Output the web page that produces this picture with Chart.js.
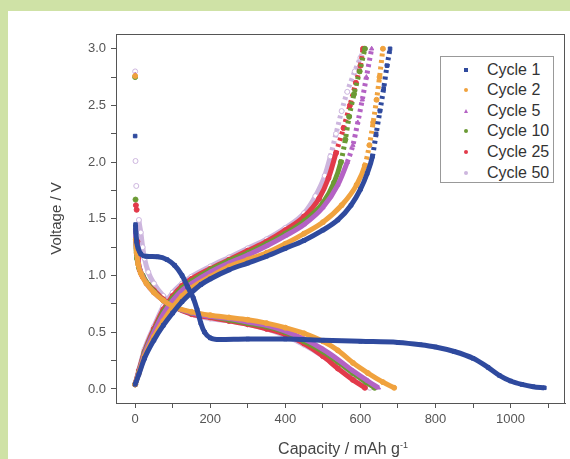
<!DOCTYPE html>
<html>
<head>
<meta charset="utf-8">
<script src="https://cdn.jsdelivr.net/npm/chart.js@4.4.1/dist/chart.umd.min.js"></script>
<style>
    body { margin: 0; background: #cfe2a6; width: 570px; height: 459px; overflow: hidden; position: relative; font-family: "Liberation Sans", Arial, sans-serif; }
    #wrap { position: absolute; left: 8px; top: 11px; width: 562px; height: 448px; background: #fff; }
    #legend { position: absolute; left: 432px; top: 45px; width: 112px; height: 125px; border: 1px solid #999; background: #fff; }
    .row { position: absolute; left: 0; height: 20px; line-height: 20px; font-size: 16px; color: #333; }
    .row span.txt { position: absolute; left: 46px; white-space: nowrap; }
    .mk { position: absolute; left: 23px; top: 8px; width: 4px; height: 4px; }
    #xtitle { position: absolute; left: 235px; width: 200px; top: 424px; line-height: 20px; text-align: center; font-size: 16px; color: #444; white-space: nowrap; }
    #xtitle sup { font-size: 9px; }
</style>
</head>
<body>
<div id="wrap">
    <canvas id="chart" width="562" height="448"></canvas>
    <div id="legend"></div>
    <div id="xtitle">Capacity / mAh g<sup>-1</sup></div>
</div>
<script>
// Capacity (mAh/g) vs voltage (V) pairs
const cycle1Discharge = [[0,2.23],[1,1.45],[2,1.38],[4,1.3],[8,1.24],[15,1.19],[30,1.17],[60,1.165],[85,1.14],[105,1.09],[125,1.0],[140,0.9],[155,0.8],[165,0.7],[175,0.58],[185,0.5],[200,0.45],[225,0.435],[300,0.44],[400,0.44],[500,0.43],[600,0.42],[700,0.41],[760,0.39],[800,0.37],[850,0.33],[900,0.27],[940,0.19],[970,0.12],[1000,0.07],[1030,0.04],[1060,0.02],[1090,0.01]];
const cycle2Discharge = [[0,2.76],[2,1.32],[4,1.2],[8,1.1],[15,1.02],[30,0.93],[50,0.85],[75,0.78],[100,0.73],[150,0.68],[200,0.65],[250,0.63],[300,0.61],[350,0.58],[400,0.54],[450,0.49],[500,0.42],[540,0.34],[580,0.23],[620,0.14],[660,0.06],[690,0.01]];
const cycle5Discharge = [[0,2.77],[1,1.42],[3,1.25],[8,1.12],[15,1.03],[30,0.93],[50,0.85],[75,0.78],[100,0.73],[150,0.67],[200,0.64],[250,0.62],[300,0.59],[350,0.56],[400,0.51],[450,0.44],[500,0.35],[540,0.26],[580,0.16],[620,0.07],[648,0.01]];
const cycle10Discharge = [[0,2.75],[1,1.67],[2,1.32],[5,1.15],[10,1.07],[20,1.0],[35,0.92],[50,0.86],[75,0.78],[100,0.73],[150,0.67],[200,0.64],[250,0.61],[300,0.58],[350,0.55],[400,0.5],[450,0.42],[500,0.33],[540,0.24],[580,0.14],[615,0.06],[638,0.01]];
const cycle25Discharge = [[2,1.62],[4,1.58],[6,1.3],[8,1.15],[12,1.05],[20,0.99],[35,0.92],[50,0.87],[75,0.79],[100,0.73],[150,0.66],[200,0.63],[250,0.6],[300,0.57],[350,0.53],[400,0.48],[450,0.4],[500,0.29],[540,0.18],[580,0.08],[612,0.01]];
const cycle50Discharge = [[0,2.8],[1,2.01],[3,1.79],[10,1.49],[15,1.38],[20,1.25],[25,1.15],[35,1.03],[50,0.93],[75,0.82],[100,0.74],[150,0.66],[200,0.62],[250,0.6],[300,0.57],[350,0.53],[400,0.47],[450,0.39],[500,0.29],[545,0.18],[590,0.07],[625,0.01]];

const cycle1Charge = [[0,0.04],[10,0.13],[25,0.27],[50,0.43],[75,0.56],[100,0.67],[125,0.77],[150,0.85],[175,0.92],[200,0.97],[250,1.05],[300,1.11],[350,1.17],[400,1.24],[450,1.31],[500,1.4],[540,1.49],[575,1.62],[600,1.76],[618,1.9],[632,2.05],[642,2.25],[652,2.45],[662,2.65],[671,2.85],[679,3.0]];
const cycle2Charge = [[0,0.04],[10,0.14],[25,0.29],[50,0.46],[75,0.6],[100,0.72],[125,0.82],[150,0.89],[200,0.99],[250,1.08],[300,1.14],[350,1.2],[400,1.28],[450,1.37],[500,1.47],[550,1.62],[590,1.8],[612,1.97],[624,2.15],[634,2.35],[643,2.55],[651,2.75],[660,3.0]];
const cycle5Charge = [[0,0.04],[10,0.15],[25,0.31],[50,0.5],[75,0.66],[100,0.78],[125,0.87],[150,0.93],[200,1.03],[250,1.11],[300,1.18],[350,1.26],[400,1.35],[450,1.45],[500,1.6],[540,1.8],[565,2.0],[580,2.15],[593,2.35],[605,2.55],[616,2.75],[630,3.0]];
const cycle10Charge = [[0,0.04],[10,0.15],[25,0.32],[50,0.51],[75,0.68],[100,0.8],[125,0.89],[150,0.95],[200,1.05],[250,1.13],[300,1.2],[350,1.28],[400,1.37],[450,1.48],[500,1.64],[530,1.82],[548,2.0],[560,2.2],[570,2.4],[583,2.6],[598,2.8],[612,3.0]];
const cycle25Charge = [[0,0.04],[10,0.16],[25,0.33],[50,0.53],[75,0.7],[100,0.82],[125,0.91],[150,0.97],[200,1.06],[250,1.14],[300,1.22],[350,1.3],[400,1.4],[450,1.52],[490,1.68],[515,1.86],[535,2.08],[555,2.3],[572,2.5],[588,2.7],[600,2.85],[607,3.0]];
const cycle50Charge = [[0,0.04],[10,0.17],[25,0.35],[50,0.55],[75,0.73],[100,0.85],[125,0.93],[150,0.99],[200,1.08],[250,1.16],[300,1.24],[350,1.32],[400,1.42],[450,1.55],[480,1.7],[505,1.88],[520,2.05],[535,2.25],[550,2.45],[565,2.62],[585,2.8],[600,2.92],[612,3.0]];

const cycleLabels = ['Cycle 1', 'Cycle 2', 'Cycle 5', 'Cycle 10', 'Cycle 25', 'Cycle 50'];
const cycleColors = ['#2f4a9e', '#f0a23e', '#b462c4', '#6b9a34', '#e23a4a', '#cdb6de'];
const cycleMarkers = ['rect', 'circle', 'triangle', 'circle', 'circle', 'circle'];
const dischargeSets = [cycle1Discharge, cycle2Discharge, cycle5Discharge, cycle10Discharge, cycle25Discharge, cycle50Discharge];
const chargeSets = [cycle1Charge, cycle2Charge, cycle5Charge, cycle10Charge, cycle25Charge, cycle50Charge];

// axis ticks (labels only on the major ones)
const xTickValues = [0, 100, 200, 300, 400, 500, 600, 700, 800, 900, 1000, 1100];
const xTickLabels = ['0', '', '200', '', '400', '', '600', '', '800', '', '1000', ''];
const yTickValues = [0, 0.25, 0.5, 0.75, 1.0, 1.25, 1.5, 1.75, 2.0, 2.25, 2.5, 2.75, 3.0];
const yTickLabels = ['0.0', '', '0.5', '', '1.0', '', '1.5', '', '2.0', '', '2.5', '', '3.0'];
const xRange = [-51, 1145];
const yRange = [-0.124, 3.13];

function toPoints(arr) {
    return arr.map(p => ({ x: p[0], y: p[1] }));
}

// build datasets: discharge + charge for each cycle
const datasets = [];
cycleLabels.forEach((label, i) => {
    const color = cycleColors[i];
    const common = {
        label: label,
        showLine: true,
        borderColor: color,
        backgroundColor: i === 5 ? '#ffffff' : color,
        pointBorderColor: color,
        pointStyle: cycleMarkers[i],
        pointRadius: 2.5,
        pointBorderWidth: 1,
        borderWidth: 5,
        cubicInterpolationMode: 'monotone'
    };
    datasets.push(Object.assign({}, common, {
        data: toPoints(dischargeSets[i]),
        segment: {
            // the first few points right after switching are isolated dots
            borderColor: ctx => ctx.p0.parsed.y > 1.5 ? 'rgba(0,0,0,0)' : undefined
        }
    }));
    datasets.push(Object.assign({}, common, {
        data: toPoints(chargeSets[i]),
        segment: {
            // near the cut-off the points spread out and look dotted
            borderDash: ctx => ctx.p0.parsed.y >= 1.95 ? [3, 3.5] : undefined
        }
    }));
});

// frame around the plot area
const framePlugin = {
    id: 'frame',
    afterDraw(chart) {
        const a = chart.chartArea;
        const ctx = chart.ctx;
        ctx.save();
        ctx.strokeStyle = '#555';
        ctx.lineWidth = 1;
        ctx.strokeRect(a.left + 0.5, a.top + 0.5, a.right - a.left - 1, a.bottom - a.top);
        ctx.restore();
    }
};

const tickFont = { family: '"Liberation Sans", Arial, sans-serif', size: 13 };

new Chart(document.getElementById('chart'), {
    type: 'scatter',
    data: { datasets: datasets },
    options: {
        responsive: false,
        animation: false,
        layout: { padding: { top: 23, right: 2, left: 0, bottom: 0 } },
        plugins: { legend: { display: false }, tooltip: { enabled: false } },
        scales: {
            x: {
                type: 'linear',
                min: xRange[0],
                max: xRange[1],
                afterFit: s => { s.height = 56; },
                afterBuildTicks: s => { s.ticks = xTickValues.map(v => ({ value: v })); },
                border: { color: '#555', width: 1 },
                grid: { drawOnChartArea: false, drawTicks: true, tickLength: 5, tickColor: '#555' },
                ticks: {
                    autoSkip: false,
                    maxRotation: 0,
                    padding: 4,
                    color: '#555',
                    font: tickFont,
                    callback: (v, i) => xTickLabels[i]
                }
            },
            y: {
                type: 'linear',
                min: yRange[0],
                max: yRange[1],
                afterFit: s => { s.width = 108; },
                afterBuildTicks: s => { s.ticks = yTickValues.map(v => ({ value: v })); },
                border: { color: '#555', width: 1 },
                grid: { drawOnChartArea: false, drawTicks: true, tickLength: 5, tickColor: '#555' },
                ticks: {
                    autoSkip: false,
                    padding: 5,
                    color: '#555',
                    font: tickFont,
                    callback: (v, i) => yTickLabels[i]
                },
                title: {
                    display: true,
                    text: 'Voltage / V',
                    color: '#444',
                    font: { family: '"Liberation Sans", Arial, sans-serif', size: 15 },
                    padding: { top: 40, bottom: 0 }
                }
            }
        }
    },
    plugins: [framePlugin]
});

// legend drawn as html text inside the plot
const legend = document.getElementById('legend');
cycleLabels.forEach((label, i) => {
    const row = document.createElement('div');
    row.className = 'row';
    row.style.top = (2.5 + i * 20.6) + 'px';
    const mk = document.createElement('span');
    mk.className = 'mk';
    if (cycleMarkers[i] === 'triangle') {
        mk.style.width = '0';
        mk.style.height = '0';
        mk.style.borderLeft = '2.5px solid transparent';
        mk.style.borderRight = '2.5px solid transparent';
        mk.style.borderBottom = '4px solid ' + cycleColors[i];
    } else {
        mk.style.background = cycleColors[i];
        if (cycleMarkers[i] === 'circle') mk.style.borderRadius = '50%';
    }
    const txt = document.createElement('span');
    txt.className = 'txt';
    txt.textContent = label;
    row.appendChild(mk);
    row.appendChild(txt);
    legend.appendChild(row);
});
</script>
</body>
</html>
